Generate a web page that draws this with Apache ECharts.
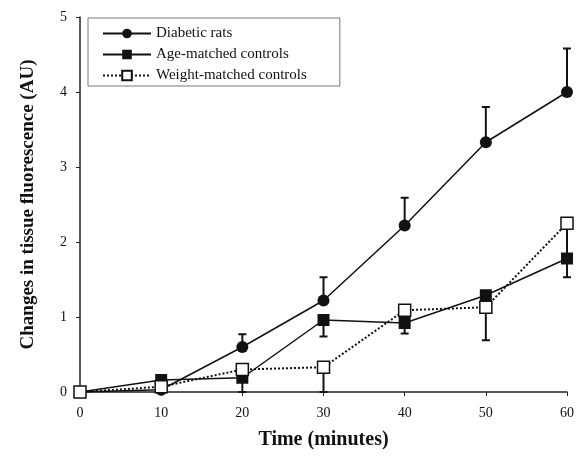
<!DOCTYPE html>
<html>
<head>
<meta charset="utf-8">
<script src="https://cdn.jsdelivr.net/npm/echarts@6/dist/echarts.min.js"></script>
<style>
  html, body { margin: 0; padding: 0; background: #fff; }
  #chart { width: 578px; height: 462px; }
</style>
</head>
<body>
<div id="chart"></div>
<script>
// time points (minutes)
const times = [0, 10, 20, 30, 40, 50, 60];
// mean values
const diabetic = [0, 0.03, 0.6, 1.22, 2.22, 3.33, 4.0];
const ageMatched = [0, 0.16, 0.19, 0.96, 0.92, 1.29, 1.78];
const weightMatched = [0, 0.07, 0.3, 0.33, 1.09, 1.13, 2.25];
// error bar ends (null = none drawn)
const diabeticErr = [null, null, 0.77, 1.53, 2.59, 3.8, 4.58];
const ageErr = [null, null, 0, 0.74, 0.78, null, 1.53];
const weightErr = [null, null, null, 0, null, 0.69, 1.8];
const yTicks = [0, 1, 2, 3, 4, 5];

const serif = "'Liberation Serif', 'DejaVu Serif', serif";

function pairs(vals) {
  return times.map((t, i) => [t, vals[i]]);
}
function errData(vals, ends) {
  let out = [];
  for (let i = 0; i < times.length; i++) {
    if (ends[i] !== null) out.push([times[i], vals[i], ends[i]]);
  }
  return out;
}
function errSeries(vals, ends) {
  return {
    type: 'custom',
    silent: true,
    z: 1,
    data: errData(vals, ends),
    encode: { x: 0, y: [1, 2] },
    renderItem: function (params, api) {
      const a = api.coord([api.value(0), api.value(1)]);
      const b = api.coord([api.value(0), api.value(2)]);
      const half = 4;
      const st = { stroke: '#111', lineWidth: 2 };
      return {
        type: 'group',
        children: [
          { type: 'line', shape: { x1: a[0], y1: a[1], x2: b[0], y2: b[1] }, style: st },
          { type: 'line', shape: { x1: b[0] - half, y1: b[1], x2: b[0] + half, y2: b[1] }, style: st }
        ]
      };
    }
  };
}

const chart = echarts.init(document.getElementById('chart'));
chart.setOption({
  animation: false,
  backgroundColor: '#fff',
  grid: { left: 80, right: 11, top: 17, bottom: 70 },
  legend: {
    orient: 'vertical',
    left: 88,
    top: 18,
    padding: [8, 33, 3, 14],
    borderColor: '#777',
    borderWidth: 1,
    itemWidth: 48,
    itemHeight: 12,
    itemGap: 6,
    textStyle: { fontFamily: serif, fontSize: 15, color: '#111' },
    data: ['Diabetic rats', 'Age-matched controls', 'Weight-matched controls']
  },
  xAxis: {
    type: 'value',
    min: 0,
    max: 60,
    interval: 10,
    name: 'Time (minutes)',
    nameLocation: 'middle',
    nameGap: 38,
    nameTextStyle: { fontFamily: serif, fontSize: 20, fontWeight: 'bold', color: '#111' },
    axisLine: { onZero: false, lineStyle: { color: '#222', width: 1.5 } },
    axisTick: { length: 4, lineStyle: { color: '#222' } },
    axisLabel: { fontFamily: serif, fontSize: 14, color: '#111', margin: 14 },
    splitLine: { show: false }
  },
  yAxis: {
    type: 'value',
    min: yTicks[0],
    max: yTicks[yTicks.length - 1],
    interval: 1,
    name: 'Changes in tissue fluorescence (AU)',
    nameLocation: 'middle',
    nameGap: 42,
    nameTextStyle: { fontFamily: serif, fontSize: 19, fontWeight: 'bold', color: '#111' },
    axisLine: { show: true, lineStyle: { color: '#222', width: 1.5 } },
    axisTick: { show: true, length: 4, lineStyle: { color: '#222' } },
    axisLabel: { fontFamily: serif, fontSize: 14, color: '#111', margin: 13 },
    splitLine: { show: false }
  },
  series: [
    errSeries(diabetic, diabeticErr),
    errSeries(ageMatched, ageErr),
    errSeries(weightMatched, weightErr),
    {
      name: 'Diabetic rats',
      type: 'line',
      z: 3,
      data: pairs(diabetic),
      symbol: 'circle',
      symbolSize: 12,
      itemStyle: { color: '#111' },
      lineStyle: { color: '#111', width: 1.5 }
    },
    {
      name: 'Age-matched controls',
      type: 'line',
      z: 4,
      data: pairs(ageMatched),
      symbol: 'rect',
      symbolSize: 12,
      itemStyle: { color: '#111' },
      lineStyle: { color: '#111', width: 1.5 }
    },
    {
      name: 'Weight-matched controls',
      type: 'line',
      z: 5,
      data: pairs(weightMatched),
      symbol: 'rect',
      symbolSize: 12,
      itemStyle: { color: '#fff', borderColor: '#111', borderWidth: 1.5 },
      lineStyle: { color: '#111', width: 2, type: 'dotted' }
    }
  ]
});
</script>
</body>
</html>
